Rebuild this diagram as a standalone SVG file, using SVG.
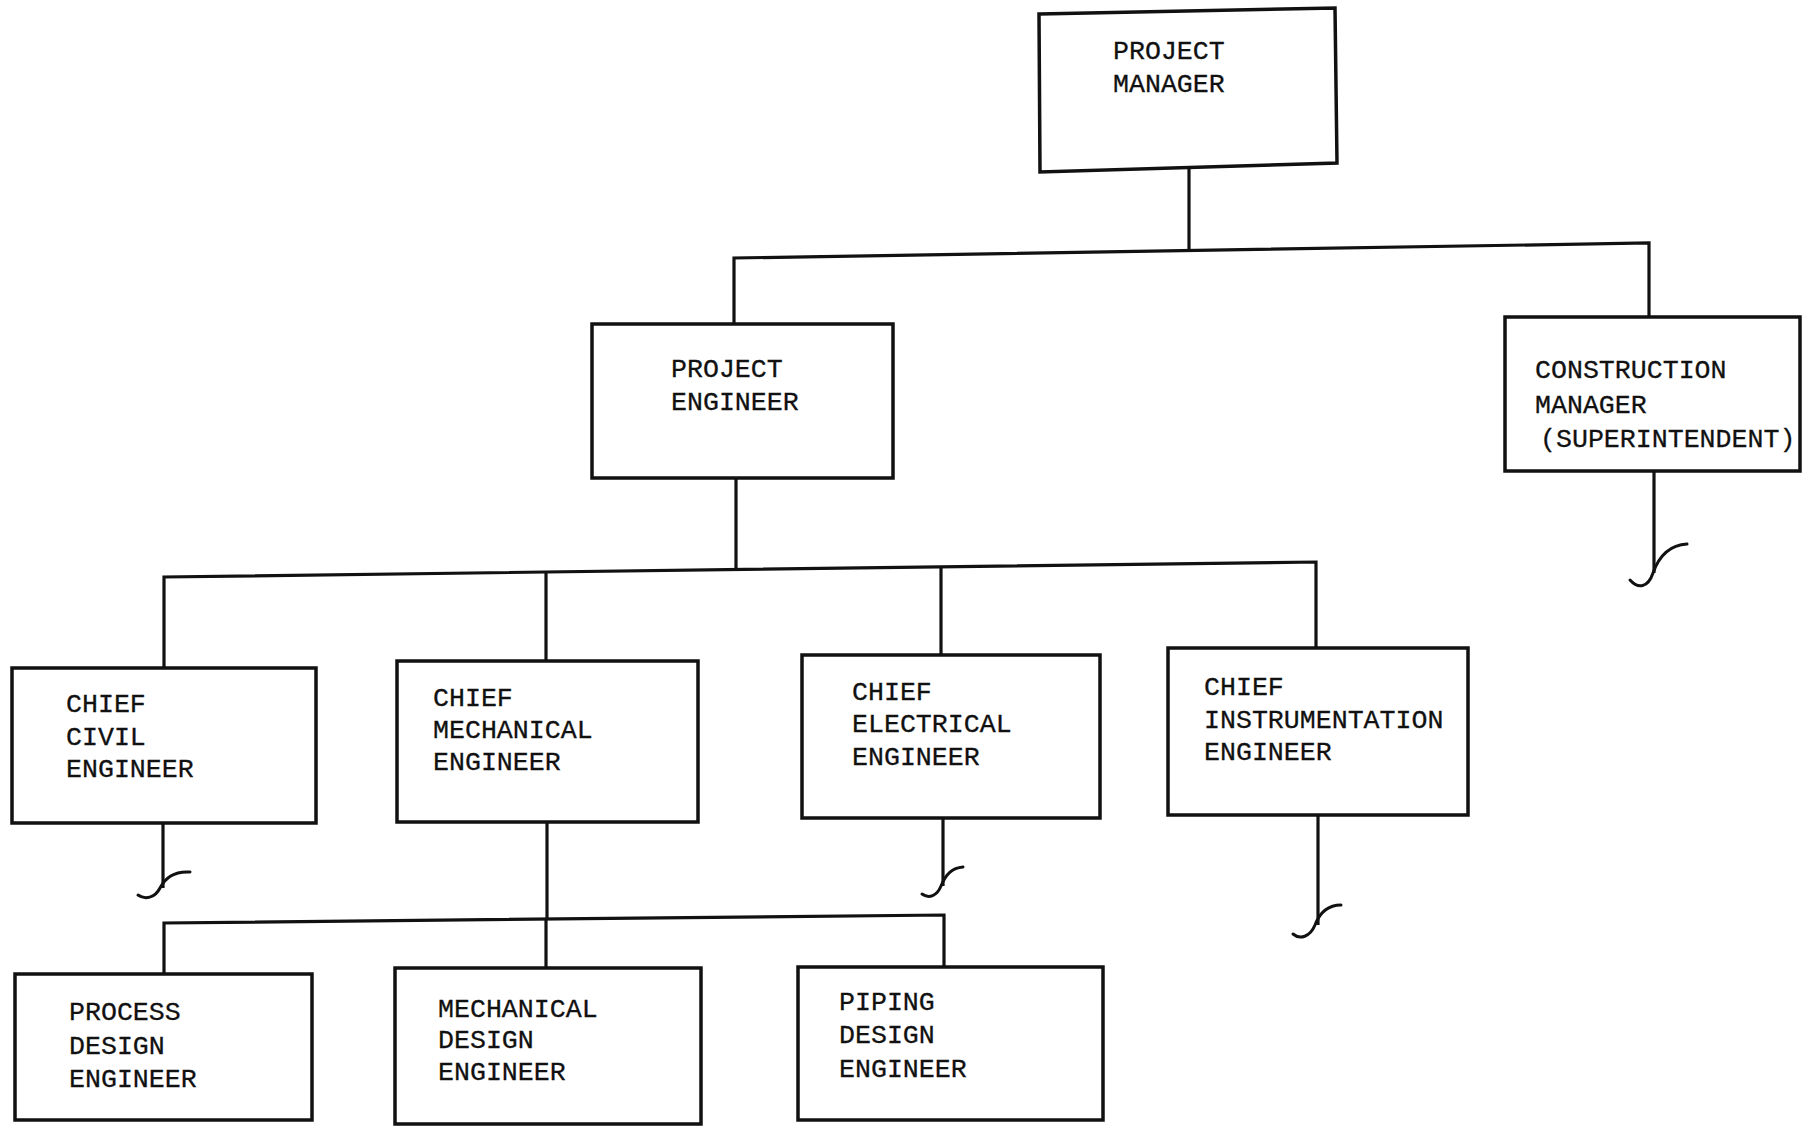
<svg xmlns="http://www.w3.org/2000/svg" width="1810" height="1128" viewBox="0 0 1810 1128">
<style>
.box{fill:none;stroke:#111;stroke-width:3.5;stroke-linejoin:miter}
.c{fill:none;stroke:#111;stroke-width:3.2}
.sq{fill:none;stroke:#111;stroke-width:3;stroke-linecap:round}
text{font-family:"Liberation Mono","Courier New",monospace;font-size:26.6px;fill:#111;stroke:#111;stroke-width:0.3}
</style>
<rect width="1810" height="1128" fill="#fff"/>
<g id="connectors">
<path class="c" d="M1189,168 V250"/>
<path class="c" d="M734,324 V258 L1649,243 V317"/>
<path class="c" d="M736,478 V569"/>
<path class="c" d="M164,668 V577 L1316,562 V648"/>
<path class="c" d="M546,661 V572"/>
<path class="c" d="M941,655 V567"/>
<path class="c" d="M547,822 V918"/>
<path class="c" d="M164,974 V923 L944,915 V967"/>
<path class="c" d="M546,968 V919"/>
<path class="c" d="M1654,471 V573"/>
<path class="sq" d="M1630,580 C1638,589 1648,588 1653,573 C1659,556 1670,545 1687,544"/>
<path class="c" d="M163,823 V888"/>
<path class="sq" d="M138,895 C145,900 155,898 160,888 C166,876 176,871 190,872"/>
<path class="c" d="M943,818 V886"/>
<path class="sq" d="M922,894 C929,899 937,896 941,886 C946,874 952,868 963,867"/>
<path class="c" d="M1318,815 V925"/>
<path class="sq" d="M1293,934 C1300,940 1310,937 1315,925 C1320,912 1328,905 1341,905"/>
</g>
<g id="project-manager">
<polygon class="box" points="1039,14 1335,8 1337,163 1040,172"/>
<text x="1113" y="59">PROJECT</text>
<text x="1113" y="92">MANAGER</text>
</g>
<g id="project-engineer">
<rect class="box" x="592" y="324" width="301" height="154"/>
<text x="671" y="377">PROJECT</text>
<text x="671" y="410">ENGINEER</text>
</g>
<g id="construction-manager">
<rect class="box" x="1505" y="317" width="295" height="154"/>
<text x="1535" y="378">CONSTRUCTION</text>
<text x="1535" y="413">MANAGER</text>
<text x="1540" y="447">(SUPERINTENDENT)</text>
</g>
<g id="chief-civil">
<rect class="box" x="12" y="668" width="304" height="155"/>
<text x="66" y="712">CHIEF</text>
<text x="66" y="745">CIVIL</text>
<text x="66" y="777">ENGINEER</text>
</g>
<g id="chief-mechanical">
<rect class="box" x="397" y="661" width="301" height="161"/>
<text x="433" y="706">CHIEF</text>
<text x="433" y="738">MECHANICAL</text>
<text x="433" y="770">ENGINEER</text>
</g>
<g id="chief-electrical">
<rect class="box" x="802" y="655" width="298" height="163"/>
<text x="852" y="700">CHIEF</text>
<text x="852" y="732">ELECTRICAL</text>
<text x="852" y="765">ENGINEER</text>
</g>
<g id="chief-instrumentation">
<rect class="box" x="1168" y="648" width="300" height="167"/>
<text x="1204" y="695">CHIEF</text>
<text x="1204" y="728">INSTRUMENTATION</text>
<text x="1204" y="760">ENGINEER</text>
</g>
<g id="process-design">
<rect class="box" x="15" y="974" width="297" height="146"/>
<text x="69" y="1020">PROCESS</text>
<text x="69" y="1054">DESIGN</text>
<text x="69" y="1087">ENGINEER</text>
</g>
<g id="mechanical-design">
<rect class="box" x="395" y="968" width="306" height="156"/>
<text x="438" y="1017">MECHANICAL</text>
<text x="438" y="1048">DESIGN</text>
<text x="438" y="1080">ENGINEER</text>
</g>
<g id="piping-design">
<rect class="box" x="798" y="967" width="305" height="153"/>
<text x="839" y="1010">PIPING</text>
<text x="839" y="1043">DESIGN</text>
<text x="839" y="1077">ENGINEER</text>
</g>
</svg>
